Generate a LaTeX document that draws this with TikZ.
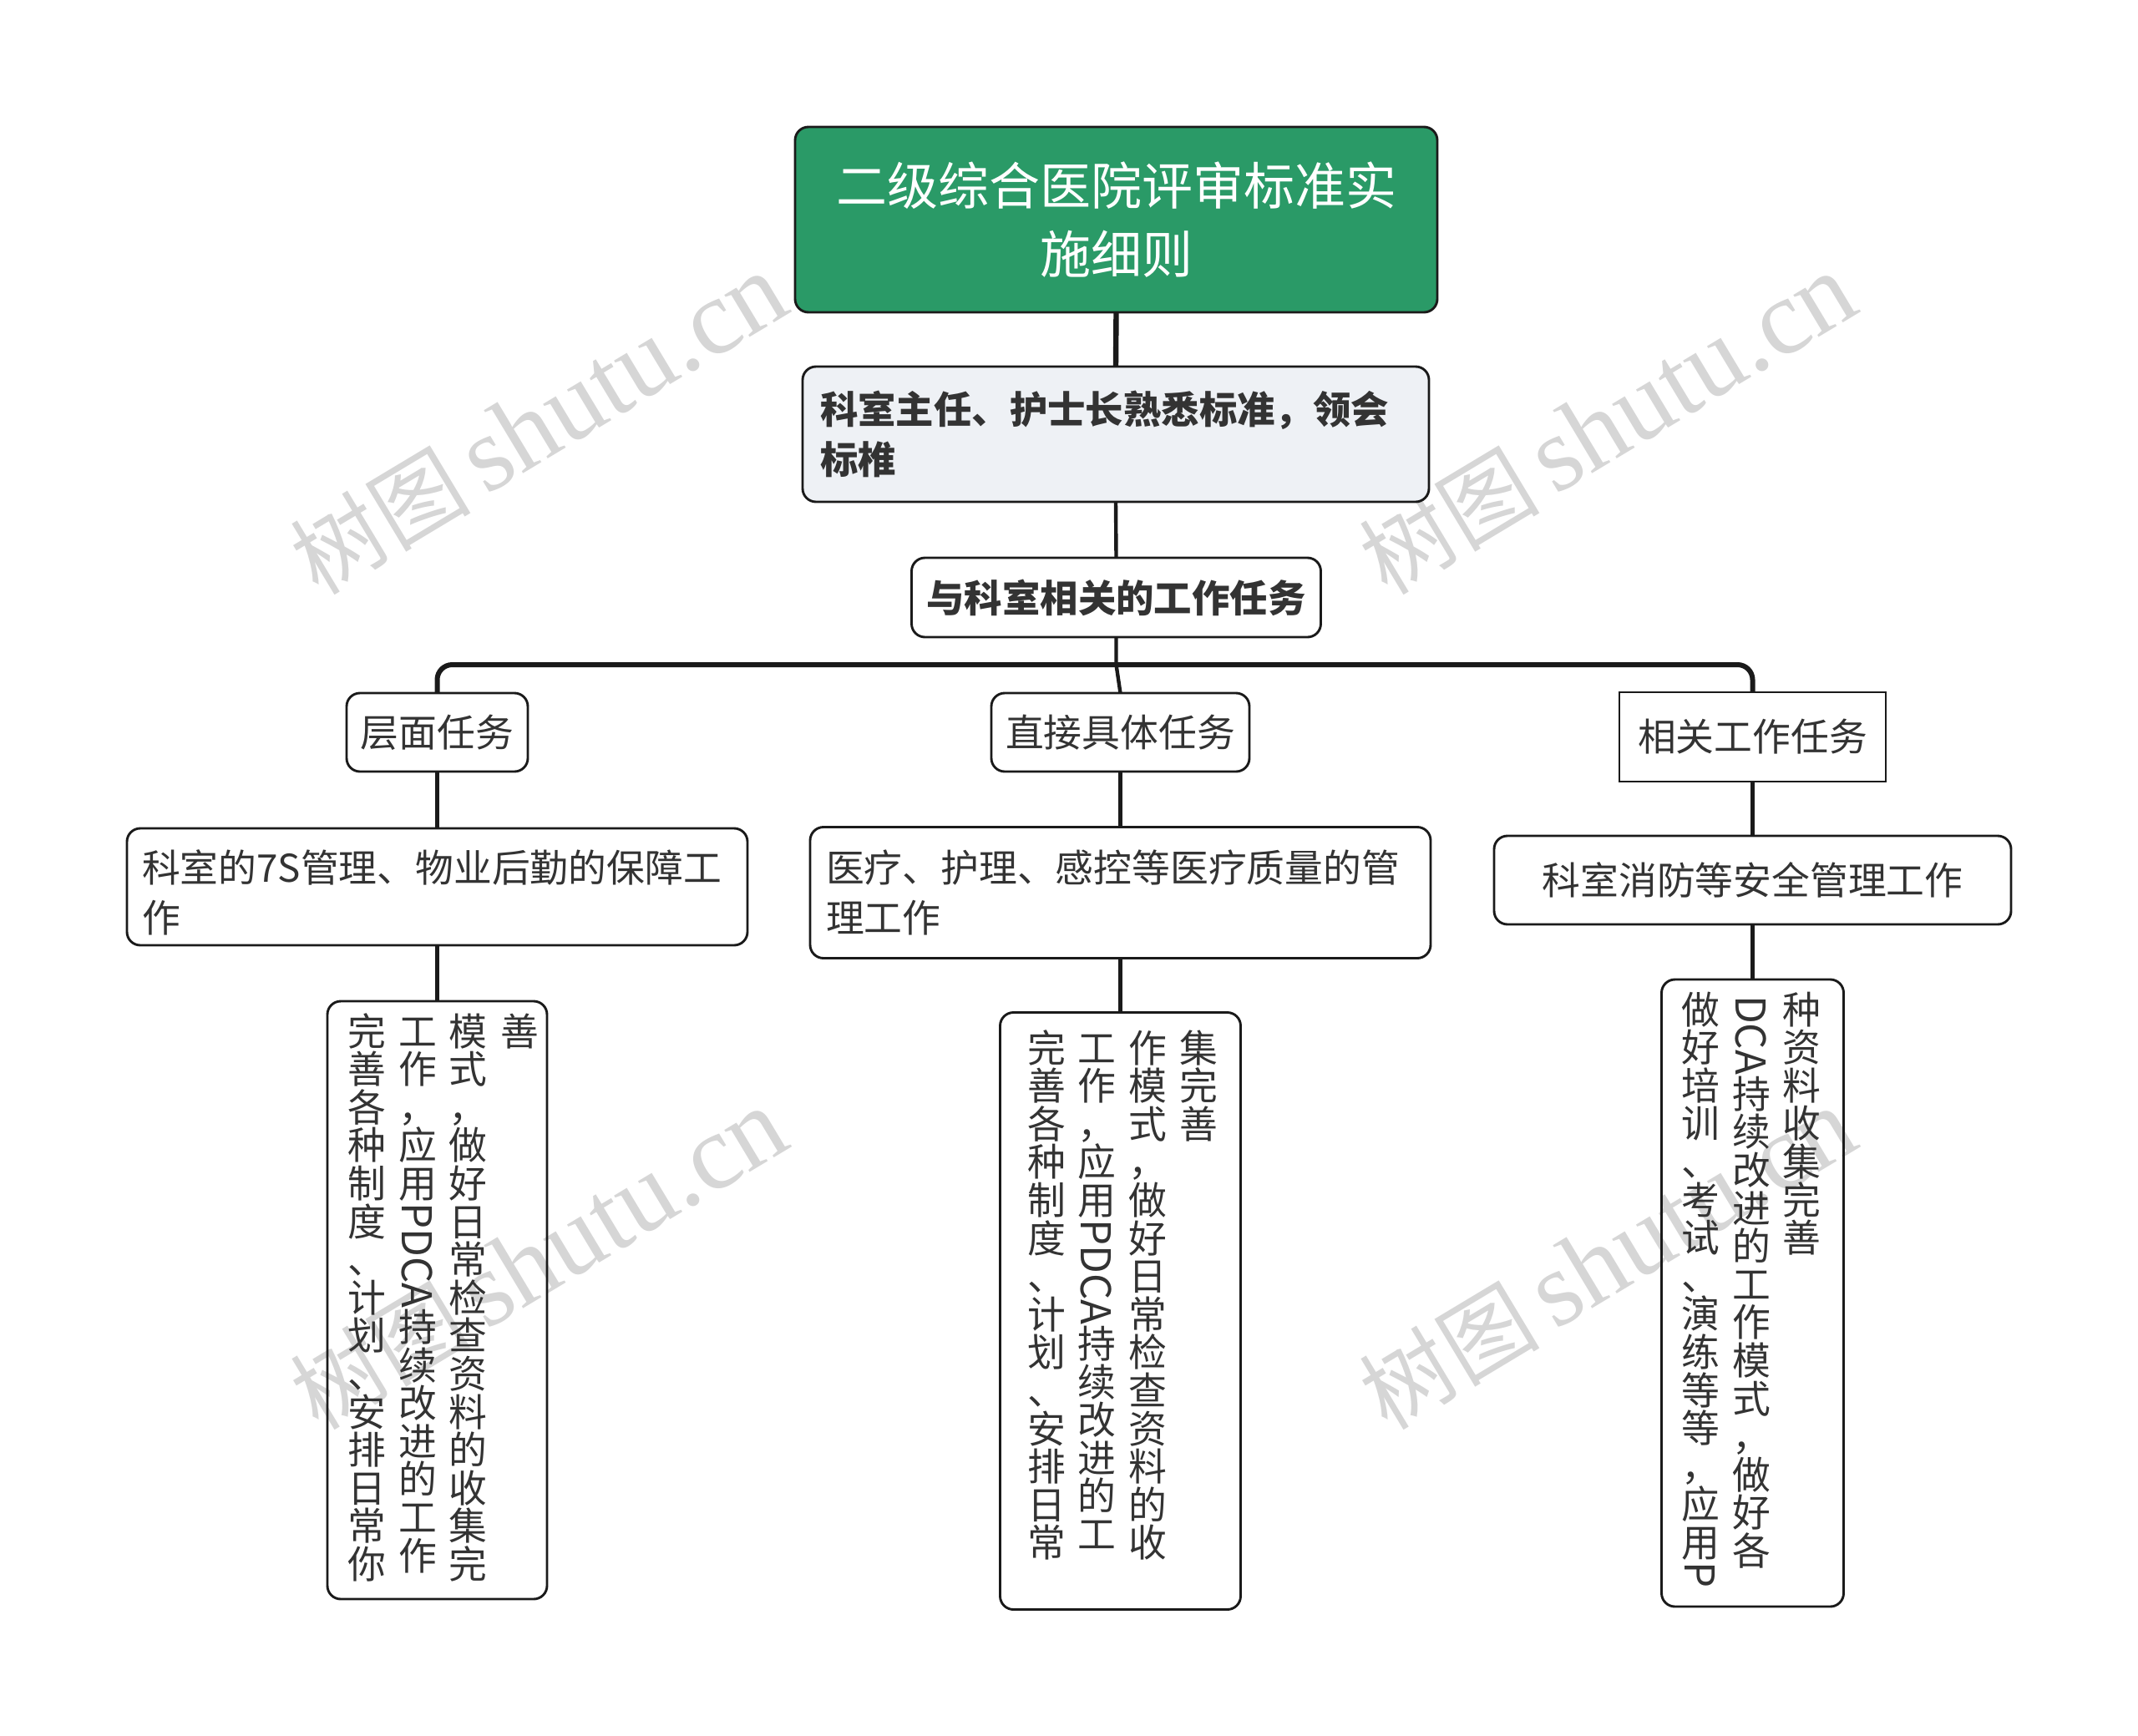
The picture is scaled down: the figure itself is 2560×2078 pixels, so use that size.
\documentclass[tikz,border=0pt]{standalone}
\usepackage{fontspec}
\usepackage{graphicx}
\setmainfont{Noto Sans CJK SC}
\newfontfamily\wmlatin{Liberation Serif}
\definecolor{ink}{HTML}{333333}
\definecolor{edge}{HTML}{1A1A1A}
\definecolor{rootgreen}{HTML}{2A9A67}
\definecolor{palefill}{HTML}{EEF1F5}
\definecolor{wm}{HTML}{D6D6D6}
\newlength\vp
\setlength\vp{22.8pt}
\makeatletter
\newcommand\vc[1]{\@tfor\vch:=#1\do{\hbox to\vp{\hss\vrule width0pt height .88\vp depth .12\vp\relax\vch\hss}}}
\makeatother
\newcommand\vl[1]{\hbox to\vp{\hss\rotatebox{-90}{\fontsize{24.6}{24.6}\selectfont #1}\hss}}
\newcommand\vcolumn[1]{\vbox{\offinterlineskip #1}}
\tikzset{
  basebox/.style={draw=edge,line width=1.45pt,rounded corners=8pt,inner sep=0pt,outer sep=0pt,text=ink,font=\fontsize{22.9}{30}\selectfont,align=center},
  rootbox/.style={basebox,fill=rootgreen,text=white,font=\fontsize{30.5}{41}\selectfont},
  leftbox/.style={basebox,align=left,inner xsep=10.5pt,inner ysep=0pt},
  sharpbox/.style={basebox,rounded corners=0pt},
  vcol/.style={anchor=north,inner sep=0pt,outer sep=0pt,text=ink,font=\fontsize{22.9}{22.9}\selectfont},
  mainlink/.style={draw=edge,line width=3.2pt},
  link/.style={draw=edge,line width=2.2pt},
  buslink/.style={draw=edge,line width=3pt,rounded corners=9pt},
  wmark/.style={text=wm,rotate=31,inner sep=0pt,font=\fontsize{54}{54}\selectfont},
}
\newcommand\wmtext{树图\hspace{9pt}{\wmlatin\fontsize{64}{64}\selectfont shutu.cn}}
\begin{document}
\begin{tikzpicture}[x=0.5pt,y=-0.5pt]
\useasboundingbox (0,0) rectangle (2560,2078);
% watermarks
\node[wmark] (w1) at (645,508) {\wmtext};
\node[wmark] (w2) at (1925,508) {\wmtext};
\node[wmark] (w3) at (645,1508) {\wmtext};
\node[wmark] (w4) at (1925,1508) {\wmtext};
% boxes
\node[rootbox,minimum width=384.5pt,minimum height=111pt] (root) at (1336.5,263) {二级综合医院评审标准实\\施细则};
\node[leftbox,fill=palefill,text width=354pt,minimum height=81pt,font=\fontsize{22.7}{30}\selectfont\bfseries] (head) at (1336,520) {科室主任、护士长熟悉标准，领会\\标椎};
\node[basebox,minimum width=245pt,minimum height=47.5pt,font=\fontsize{22.7}{30}\selectfont\bfseries] (task) at (1336.5,715.5) {与科室相关的工作任务};
\node[basebox,minimum width=108.5pt,minimum height=47pt] (a) at (523.5,877) {层面任务};
\node[basebox,minimum width=154.5pt,minimum height=47pt] (b) at (1341.5,877) {直接具体任务};
\node[sharpbox,minimum width=159.5pt,minimum height=53.5pt] (c) at (2098.5,882.5) {相关工作任务};
\node[leftbox,inner xsep=9pt,text width=353.5pt,minimum height=70pt] (a2) at (523.5,1062) {\rule{0pt}{26pt}科室的7S管理、物业后勤的保障工\\作};
\node[leftbox,inner xsep=9.5pt,text width=352.5pt,minimum height=78.5pt] (b2) at (1341.5,1069) {医疗、护理、感控等医疗质量的管\\理工作};
\node[basebox,minimum width=309.5pt,minimum height=53pt] (c2) at (2098.5,1054) {科室消防等安全管理工作};
\node[basebox,minimum width=131.5pt,minimum height=358pt] (a3) at (523.5,1557) {};
\node[basebox,minimum width=144pt,minimum height=357.5pt] (b3) at (1341.5,1570) {};
\node[basebox,minimum width=109pt,minimum height=375.5pt] (c3) at (2098.5,1548.5) {};
% vertical text columns
\node[vcol] (a3k1) at (622,1212) {\vcolumn{\vc{善}}};
\node[vcol] (a3k2) at (560.5,1212) {\vcolumn{\vc{模式，做好日常检查资料的收集完}}};
\node[vcol] (a3k3) at (500,1212) {\vcolumn{\vc{工作，应用}\vl{PDCA}\vc{持续改进的工作}}};
\node[vcol] (a3k4) at (439,1212) {\vcolumn{\vc{完善各种制度、计划、安排日常你}}};
\node[vcol] (b3k1) at (1435,1232) {\vcolumn{\vc{集完善}}};
\node[vcol] (b3k2) at (1374,1232) {\vcolumn{\vc{作模式，做好日常检查资料的收}}};
\node[vcol] (b3k3) at (1313,1232) {\vcolumn{\vc{工作，应用}\vl{PDCA}\vc{持续改进的工}}};
\node[vcol] (b3k4) at (1253,1232) {\vcolumn{\vc{完善各种制度、计划、安排日常}}};
\node[vcol] (c3k1) at (2157,1186) {\vcolumn{\vc{种资料收集完善}}};
\node[vcol] (c3k2) at (2097,1192) {\vcolumn{\vl{DCA}\vc{持续改进的工作模式，做好各}}};
\node[vcol] (c3k3) at (2036,1186) {\vcolumn{\vc{做好培训、考试、演练等等，应用}\vl{P}}};
% connectors
\coordinate (busA) at (a.north |- 0,796);
\coordinate (busB) at (task.south |- 0,796);
\coordinate (busC) at (c.north |- 0,796);
\draw[mainlink] (root.south) -- (head.north);
\draw[link] (head.south) -- (task.north);
\draw[buslink] (a.north) -- (busA) -- (busC) -- (c.north);
\draw[link] (task.south) -- (busB) -- (b.north);
\draw[link] (a.south) -- (a2.north);
\draw[link] (a2.south) -- (a3.north);
\draw[link] (b.south) -- (b2.north);
\draw[link] (b2.south) -- (b3.north);
\draw[link] (c.south) -- (c2.north);
\draw[link] (c2.south) -- (c3.north);
\end{tikzpicture}
\end{document}
